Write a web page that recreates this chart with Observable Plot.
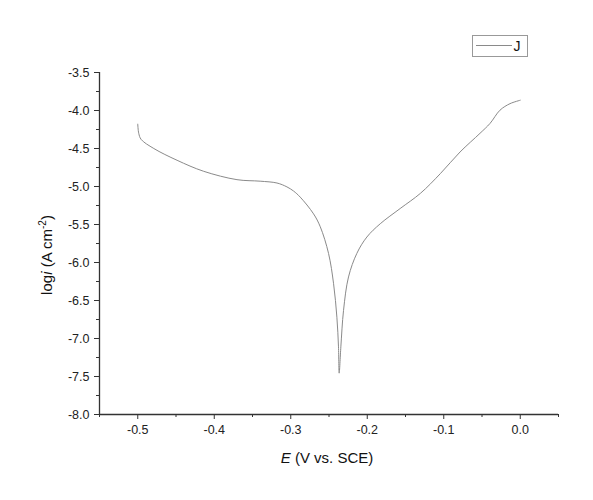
<!DOCTYPE html>
<html>
<head>
<meta charset="utf-8">
<script src="https://cdn.jsdelivr.net/npm/d3@7"></script>
<script src="https://cdn.jsdelivr.net/npm/@observablehq/plot@0.6"></script>
<style>
  html, body { margin: 0; padding: 0; background: #fff; }
  #chart { position: relative; width: 593px; height: 500px; }
</style>
</head>
<body>
<div id="chart"></div>
<script>
// Potential E (V vs. SCE)
const potential = [
  -0.5, -0.4987, -0.4956, -0.479, -0.4486, -0.4138, -0.3703, -0.340, -0.318,
  -0.305, -0.2963, -0.2876, -0.2702, -0.2614, -0.2506, -0.244, -0.2397,
  -0.2376, -0.2367, -0.2345, -0.231, -0.2245, -0.2136, -0.2005, -0.183,
  -0.157, -0.1305, -0.1044, -0.0787, -0.0526, -0.0395, -0.0265, -0.0134, 0.0
];
// log i (A cm^-2)
const logCurrent = [
  -4.18, -4.30, -4.38, -4.50, -4.655, -4.80, -4.91, -4.93, -4.954,
  -5.005, -5.06, -5.14, -5.36, -5.53, -5.88, -6.28, -6.72,
  -7.11, -7.456, -7.11, -6.63, -6.19, -5.88, -5.665, -5.49,
  -5.29, -5.09, -4.83, -4.546, -4.30, -4.17, -3.996, -3.91, -3.865
];
const seriesName = "J";
const xMajor = [-0.5, -0.4, -0.3, -0.2, -0.1, 0.0];
const xMinor = [-0.55, -0.45, -0.35, -0.25, -0.15, -0.05, 0.05];
const yMajor = [-3.5, -4.0, -4.5, -5.0, -5.5, -6.0, -6.5, -7.0, -7.5, -8.0];
const yMinor = [-3.75, -4.25, -4.75, -5.25, -5.75, -6.25, -6.75, -7.25, -7.75];

const data = potential.map((e, k) => ({E: e, logi: logCurrent[k]}));
const fmt = d => d.toFixed(1);
const axisColor = "#333";

const plot = Plot.plot({
  width: 593,
  height: 500,
  marginLeft: 99,
  marginRight: 35,
  marginTop: 72,
  marginBottom: 86,
  style: {fontFamily: "'Liberation Sans', Arial, sans-serif", fontSize: "12.5px", color: "#222", background: "#fff"},
  x: {domain: [-0.55, 0.05]},
  y: {domain: [-8, -3.5]},
  marks: [
    Plot.ruleX([-0.55], {stroke: axisColor, strokeWidth: 1.3}),
    Plot.ruleY([-8], {stroke: axisColor, strokeWidth: 1.3}),
    Plot.axisX({ticks: xMajor, tickFormat: fmt, tickSize: 5, tickPadding: 6, label: null, stroke: axisColor}),
    Plot.axisX({ticks: xMinor, tickFormat: () => "", tickSize: 3, label: null, stroke: axisColor}),
    Plot.axisY({ticks: yMajor, tickFormat: fmt, tickSize: 5, tickPadding: 5, label: null, stroke: axisColor}),
    Plot.axisY({ticks: yMinor, tickFormat: () => "", tickSize: 3, label: null, stroke: axisColor}),
    Plot.line(data, {x: "E", y: "logi", stroke: "#8a8a8a", strokeWidth: 1, curve: "catmull-rom"})
  ]
});
document.getElementById("chart").appendChild(plot);

// Axis titles and legend
const svg = d3.select(plot);
const xt = svg.append("text")
  .attr("x", 327).attr("y", 463)
  .attr("text-anchor", "middle")
  .style("font-size", "15px").style("fill", "#111");
xt.append("tspan").style("font-style", "italic").text("E");
xt.append("tspan").text(" (V vs. SCE)");

const yt = svg.append("text")
  .attr("transform", "translate(52,255) rotate(-90)")
  .attr("text-anchor", "middle")
  .style("font-size", "15px").style("fill", "#111");
yt.append("tspan").text("log");
yt.append("tspan").style("font-style", "italic").text("i");
yt.append("tspan").text(" (A cm");
yt.append("tspan").attr("dy", -6).style("font-size", "10px").text("-2");
yt.append("tspan").attr("dy", 6).text(")");

const lg = svg.append("g");
lg.append("rect").attr("x", 472.5).attr("y", 35.5).attr("width", 55).attr("height", 21)
  .attr("fill", "#fff").attr("stroke", "#999");
lg.append("line").attr("x1", 476).attr("x2", 512).attr("y1", 45.5).attr("y2", 45.5)
  .attr("stroke", "#8a8a8a");
lg.append("text").attr("x", 517).attr("y", 51).style("font-size", "14px").style("fill", "#111").text(seriesName);
</script>
</body>
</html>
